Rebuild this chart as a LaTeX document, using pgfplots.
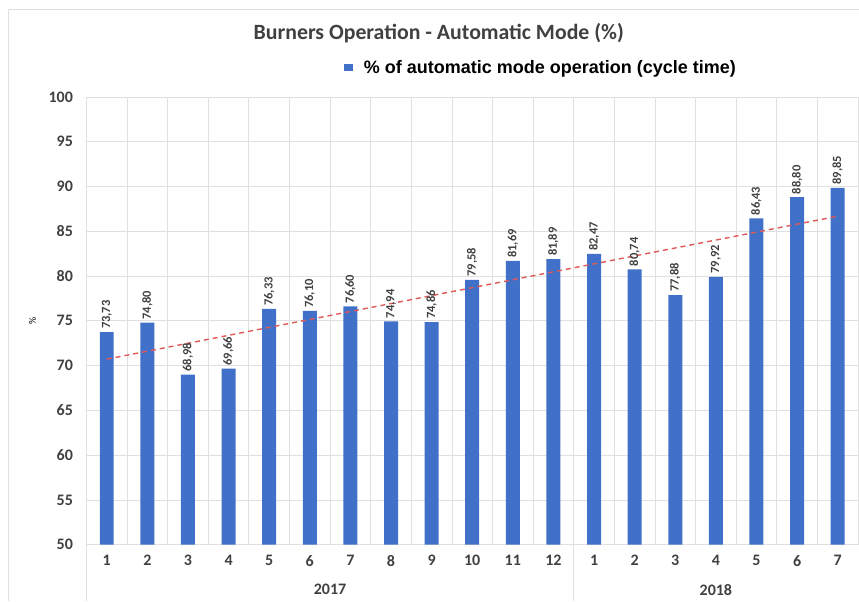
\documentclass[border=0pt]{standalone}
\usepackage{pgfplots}
\pgfplotsset{compat=1.18}
\usepackage{fontspec}
\setmainfont{Carlito}
\newfontfamily\arialfont{Liberation Sans}
\definecolor{barblue}{HTML}{4170C8}
\definecolor{tickgray}{HTML}{404040}
\definecolor{gridgray}{HTML}{E0E0E0}
\definecolor{trendred}{HTML}{E05858}
\begin{document}
\begin{tikzpicture}
\path (0pt,0pt) rectangle (859pt,601pt);
\draw[gridgray, line width=1pt] (9pt,0pt) -- (9pt,591pt) -- (859pt,591pt);
\node[font=\fontsize{21.8}{24}\selectfont\bfseries, text=tickgray] at (439pt,568pt) {Burners Operation - Automatic Mode (\%)};
\begin{axis}[
  at={(86.5pt,56pt)}, anchor=south west,
  scale only axis, width=772pt, height=448pt,
  xmin=0.5, xmax=19.5, ymin=50, ymax=100,
  ytick={50,55,...,100},
  xtick={1,...,19},
  xticklabels={1,2,3,4,5,6,7,8,9,10,11,12,1,2,3,4,5,6,7},
  minor xtick={1.5,2.5,...,18.5},
  major tick length=0, minor tick length=0,
  ymajorgrids, xminorgrids,
  major grid style={gridgray, line width=0.8pt},
  minor grid style={gridgray, line width=0.8pt},
  axis line style={gridgray},
  tick label style={font=\fontsize{16}{18}\selectfont\bfseries, text=tickgray},
  yticklabel style={xshift=-10pt},
  xticklabel style={yshift=-7pt},
  /pgf/number format/assume math mode=true,
  ylabel={\%}, ylabel style={font=\scriptsize, text=gray},
  every axis y label/.style={at={(rel axis cs:0,0.5)}, anchor=center, xshift=-54pt, rotate=90},
  clip=false,
  legend style={at={(0.589,1.065)}, anchor=center, draw=none, fill=none,
    font=\arialfont\fontsize{18}{20}\selectfont\bfseries},
  legend image code/.code={\fill[barblue] (0pt,-3.5pt) rectangle (9pt,3.5pt);},
]
\addplot[ybar, bar width=14pt, fill=barblue, draw=none,
  nodes near coords,
  every node near coord/.append style={rotate=90, anchor=west,
    font=\fontsize{12.5}{14}\selectfont\bfseries, text=tickgray, inner sep=3pt},
  nodes near coords style={/pgf/number format/.cd, fixed, fixed zerofill, precision=2, use comma, assume math mode=true},
] coordinates {
(1,73.73) (2,74.80) (3,68.98) (4,69.66) (5,76.33) (6,76.10) (7,76.60)
(8,74.94) (9,74.86) (10,79.58) (11,81.69) (12,81.89) (13,82.47) (14,80.74)
(15,77.88) (16,79.92) (17,86.43) (18,88.80) (19,89.85)
};
\addlegendentry{\hspace{9pt}\% of automatic mode operation (cycle time)}
\addplot[trendred, line width=1.4pt, dash pattern=on 5pt off 4pt, forget plot] coordinates {(1,70.72) (19,86.68)};
\coordinate (sepA) at (axis cs:0.5,50);
\coordinate (sepB) at (axis cs:12.5,50);
\node[font=\fontsize{16}{18}\selectfont\bfseries, text=tickgray] at (axis cs:6.5,50) [yshift=-45pt] {2017};
\node[font=\fontsize{16}{18}\selectfont\bfseries, text=tickgray] at (axis cs:16,50) [yshift=-45pt] {2018};
\end{axis}
\draw[gridgray, line width=0.8pt] (sepA) -- (sepA |- 0,0);
\draw[gridgray, line width=0.8pt] (sepB) -- (sepB |- 0,0);
\end{tikzpicture}
\end{document}
